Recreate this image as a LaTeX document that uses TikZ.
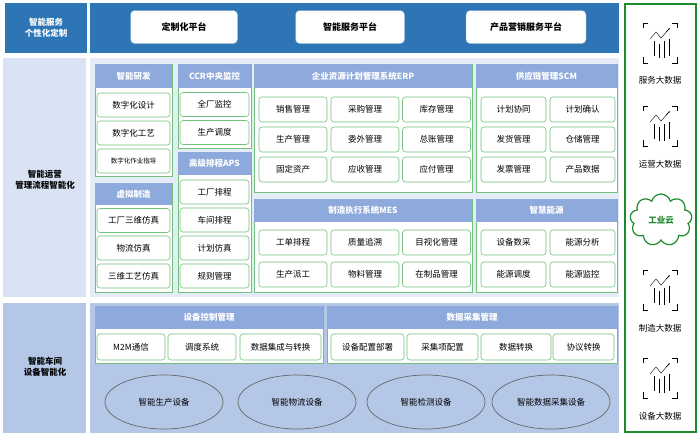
\documentclass[tikz,border=0pt]{standalone}
\usepackage{fontspec}
\setmainfont{Noto Sans CJK SC}
\usetikzlibrary{shapes.geometric,shapes.symbols,arrows.meta}
\definecolor{darkblue}{HTML}{2E75B6}
\definecolor{headblue}{HTML}{8EA9DB}
\definecolor{paleblue}{HTML}{DAE3F3}
\definecolor{midblue}{HTML}{B4C7E7}
\definecolor{itemgreen}{HTML}{70C27A}
\definecolor{cloudgreen}{HTML}{1E8A2E}
\tikzset{
  band/.style={fill=#1,draw=none},
  panel/.style={draw=itemgreen,fill=white,line width=0.6pt},
  head/.style={fill=headblue,draw=none,text=white,font=\bfseries\fontsize{8.5}{10}\selectfont},
  item/.style={draw=itemgreen,fill=white,rounded corners=3pt,line width=0.6pt,
    font=\fontsize{8.5}{10}\selectfont,inner sep=0pt},
  platform/.style={draw=darkblue!60,fill=white,rounded corners=4pt,
    font=\bfseries\fontsize{9}{10}\selectfont,inner sep=0pt},
  sidelabel/.style={font=\bfseries\fontsize{8.5}{11}\selectfont,align=center},
  device/.style={ellipse,draw=gray!80!black,line width=0.7pt,inner sep=0pt,
    minimum width=118pt,minimum height=54pt,font=\fontsize{8.5}{10}\selectfont},
  bigdata/.style={font=\fontsize{8.5}{10}\selectfont}
}
% panel: name, x1, y1, x2, y2, header bottom, title
\newcommand\drawpanel[7]{%
  \draw[panel] (#2,#3) rectangle (#4,#5);
  \path[head] (#2,#3) rectangle (#4,#6);
  \node[head,fill=none] (#1) at ({(#2+#4)/2},{(#3+#6)/2}) {#7};}
% chart icon at center x, top y
\newcommand\charticon[2]{%
  \begin{scope}[shift={(#1,#2)},line width=0.6pt]
    \draw (-17,5) |- (-12,0) (12,0) -| (17,5) (-17,34) |- (-12,40) (12,40) -| (17,34);
    \draw[line width=0.4pt] (-10,16) -- (-4,9) -- (1,15) -- (9,6);
    \draw[line width=0.4pt,-{Latex[length=2pt]}] (6,9) -- (10,5);
    \draw[line width=0.4pt] (-6,18) -- (-6,33) (-1,21) -- (-1,35) (4,18) -- (4,35) (9,16) -- (9,33);
  \end{scope}}
\begin{document}
\begin{tikzpicture}[x=1pt,y=-1pt]
\useasboundingbox (0,0) rectangle (700,437);
% bands
\path[band=darkblue] (5,3) rectangle (87,53);
\path[band=darkblue] (90,3) rectangle (619,53);
\path[band=paleblue] (3,58) rectangle (86,297);
\path[band=paleblue!70] (90,58) rectangle (619,297);
\path[band=midblue] (3,303) rectangle (86,433);
\path[band=midblue] (90,303) rectangle (619,433);
\node[sidelabel,text=white] (l1) at (46,28) {智能服务\\个性化定制};
\node[sidelabel] (l2) at (45,180) {智能运营\\管理流程智能化};
\node[sidelabel] (l3) at (45,367) {智能车间\\设备智能化};
% platforms
\node[platform,minimum width=107pt,minimum height=33pt] (p1) at (184,27) {定制化平台};
\node[platform,minimum width=109pt,minimum height=33pt] (p2) at (350,27) {智能服务平台};
\node[platform,minimum width=120pt,minimum height=33pt] (p3) at (526,27) {产品营销服务平台};
% middle panels
\drawpanel{rd}{95}{64}{172}{176}{88}{智能研发}
\foreach \t/\y in {数字化设计/105,数字化工艺/133}
  \node[item,minimum width=73pt,minimum height=24pt] at (133.5,\y) {\t};
\node[item,minimum width=73pt,minimum height=24pt,font=\fontsize{6.5}{8}\selectfont] (rd3) at (133.5,161) {数字化作业指导};
\drawpanel{vm}{95}{183}{172}{292}{205}{虚拟制造}
\foreach \t/\y in {工厂三维仿真/220.5,物流仿真/248,三维工艺仿真/276}
  \node[item,minimum width=73pt,minimum height=24pt] at (133.5,\y) {\t};
\drawpanel{ccr}{178}{64}{251}{148}{88}{CCR中央监控}
\foreach \t/\y in {全厂监控/104.5,生产调度/132.5}
  \node[item,minimum width=69pt,minimum height=24pt] at (214.5,\y) {\t};
\drawpanel{aps}{178}{152}{251}{292}{175}{高级排程APS}
\foreach \t/\y in {工厂排程/192,车间排程/220,计划仿真/248,规则管理/276}
  \node[item,minimum width=69pt,minimum height=24pt] at (214.5,\y) {\t};
\drawpanel{erp}{254}{64}{472}{192}{88}{企业资源计划管理系统ERP}
\foreach \a/\b/\c [count=\r] in {销售管理/采购管理/库存管理,生产管理/委外管理/总账管理,固定资产/应收管理/应付管理}{
  \foreach \t/\x in {\a/293,\b/365,\c/436.5}
    \node[item,minimum width=68pt,minimum height=25pt] at (\x,{79.5+30*\r}) {\t};}
\drawpanel{scm}{476}{64}{617}{192}{88}{供应链管理SCM}
\foreach \a/\b [count=\r] in {计划协同/计划确认,发货管理/仓储管理,发票管理/产品数据}{
  \foreach \t/\x in {\a/513.5,\b/582.5}
    \node[item,minimum width=65pt,minimum height=25pt] at (\x,{79.5+30*\r}) {\t};}
\drawpanel{mes}{254}{199}{472}{292}{222}{制造执行系统MES}
\foreach \a/\b/\c [count=\r] in {工单排程/质量追溯/目视化管理,生产派工/物料管理/在制品管理}{
  \foreach \t/\x in {\a/293,\b/365,\c/436.5}
    \node[item,minimum width=68pt,minimum height=25pt] at (\x,{210.5+32*\r}) {\t};}
\drawpanel{en}{476}{199}{617}{292}{222}{智慧能源}
\foreach \a/\b [count=\r] in {设备数采/能源分析,能源调度/能源监控}{
  \foreach \t/\x in {\a/513.5,\b/582.5}
    \node[item,minimum width=65pt,minimum height=25pt] at (\x,{210.5+32*\r}) {\t};}
% bottom panels
\drawpanel{ctl}{95}{306}{323}{363}{329}{设备控制管理}
\foreach \t/\x/\w in {M2M通信/131/68,调度系统/202/68,数据集成与转换/280.5/81}
  \node[item,minimum width=\w pt,minimum height=26pt] at (\x,347) {\t};
\drawpanel{dc}{327}{306}{617}{363}{329}{数据采集管理}
\foreach \t/\x/\w in {设备配置部署/367.5/73,采集项配置/442.5/71,数据转换/516/70,协议转换/583.5/61}
  \node[item,minimum width=\w pt,minimum height=26pt] at (\x,347) {\t};
\foreach \t/\x [count=\i] in {智能生产设备/164,智能物流设备/297,智能检测设备/426,智能数据采集设备/551}
  \node[device] (dev\i) at (\x,402) {\t};
% right column
\draw[draw=cloudgreen,line width=1.5pt] (625,4) rectangle (696,432);
\charticon{660}{23}
\node[bigdata] (bd1) at (660,80) {服务大数据};
\charticon{660}{106}
\node[bigdata] (bd2) at (660,164) {运营大数据};
\node[cloud,cloud puffs=9,aspect=1.2,draw=cloudgreen,line width=1.2pt,fill=white,
  minimum width=62pt,minimum height=52pt,text=cloudgreen,
  font=\bfseries\fontsize{8.5}{10}\selectfont] (cloud) at (661,220) {工业云};
\charticon{660}{270}
\node[bigdata] (bd3) at (660,328) {制造大数据};
\charticon{660}{358}
\node[bigdata] (bd4) at (660,416) {设备大数据};
\end{tikzpicture}
\end{document}
